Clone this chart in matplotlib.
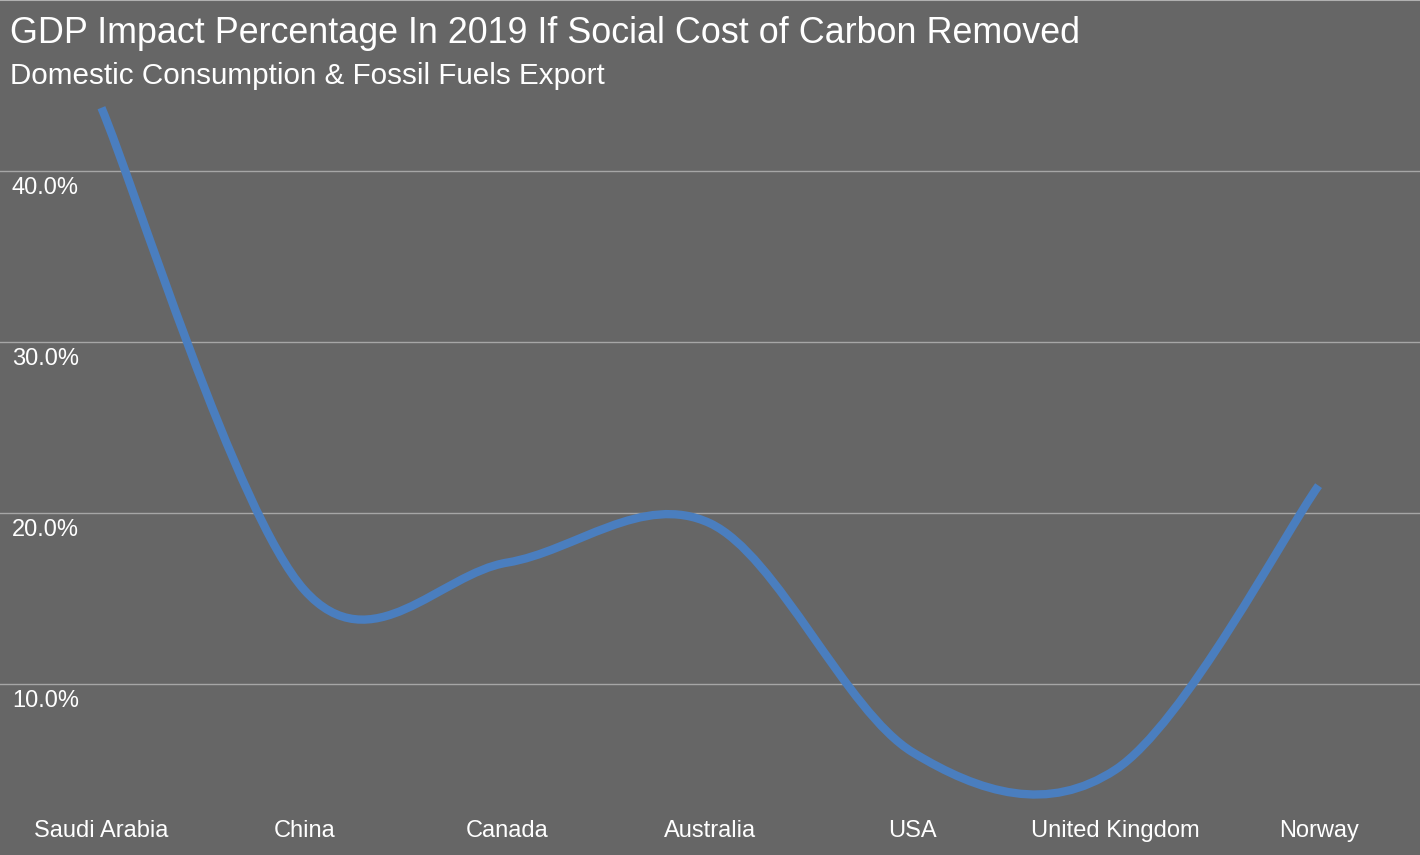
import matplotlib
matplotlib.use("Agg")
import matplotlib.pyplot as plt
from matplotlib.path import Path
from matplotlib.patches import PathPatch
import numpy as np

plt.rcParams['font.family'] = ['Liberation Sans', 'DejaVu Sans']

countries = ["Saudi Arabia", "China", "Canada", "Australia", "USA", "United Kingdom", "Norway"]
impact_pct = [43.7, 15.5, 17.1, 19.4, 6.0, 5.0, 21.6]
y_ticks = [10, 20, 30, 40]
y_tick_labels = ["10.0%", "20.0%", "30.0%", "40.0%"]

title = "GDP Impact Percentage In 2019 If Social Cost of Carbon Removed"
subtitle = "Domestic Consumption & Fossil Fuels Export"

BG = "#666666"
GRID = "#a6a6a6"
LINE = "#4a7ebf"

fig = plt.figure(figsize=(14.2, 8.55), dpi=100, facecolor=BG)
ax = fig.add_axes([0, 0, 1, 1])
ax.set_facecolor(BG)
ax.set_xlim(-0.5, len(countries) - 0.5)
ax.set_ylim(0, 50)
for s in ax.spines.values():
    s.set_visible(False)
ax.set_xticks([])
ax.set_yticks([])

for t in y_ticks:
    ax.axhline(t, color=GRID, lw=1.0, zorder=1)

# Smoothed line (Catmull-Rom style Bezier, as spreadsheet smoothing)
x = np.arange(len(countries), dtype=float)
y = np.array(impact_pct, dtype=float)
px = np.concatenate([[x[0]], x, [x[-1]]])
py = np.concatenate([[y[0]], y, [y[-1]]])
verts = [(x[0], y[0])]
codes = [Path.MOVETO]
for i in range(1, len(px) - 2):
    p0 = np.array([px[i - 1], py[i - 1]])
    p1 = np.array([px[i], py[i]])
    p2 = np.array([px[i + 1], py[i + 1]])
    p3 = np.array([px[i + 2], py[i + 2]])
    c1 = p1 + (p2 - p0) / 6.0
    c2 = p2 - (p3 - p1) / 6.0
    verts += [tuple(c1), tuple(c2), tuple(p2)]
    codes += [Path.CURVE4] * 3
path = Path(verts, codes)
ax.add_patch(PathPatch(path, facecolor='none', edgecolor=LINE, lw=6.0,
                       capstyle='butt', joinstyle='round', zorder=3))

for t, lab in zip(y_ticks, y_tick_labels):
    ax.annotate(lab, xy=(0, t), xycoords=('axes fraction', 'data'),
                xytext=(12, -6), textcoords='offset pixels',
                ha='left', va='top', color='white', fontsize=17)

for xi, lab in zip(x, countries):
    ax.annotate(lab, xy=(xi, 0), xycoords='data',
                xytext=(0, 18), textcoords='offset pixels',
                ha='center', va='baseline', color='white', fontsize=17)

fig.text(10 / 1420, 1 - 43 / 855, title, ha='left', va='baseline',
         color='white', fontsize=25.8)
fig.text(10 / 1420, 1 - 84 / 855, subtitle, ha='left', va='baseline',
         color='white', fontsize=21.3)

fig.add_artist(plt.Line2D([0, 1], [1 - 0.5 / 855, 1 - 0.5 / 855],
                          transform=fig.transFigure, color="#b0b0b0", lw=1.5))

fig.savefig("out.png", dpi=100, facecolor=BG)
